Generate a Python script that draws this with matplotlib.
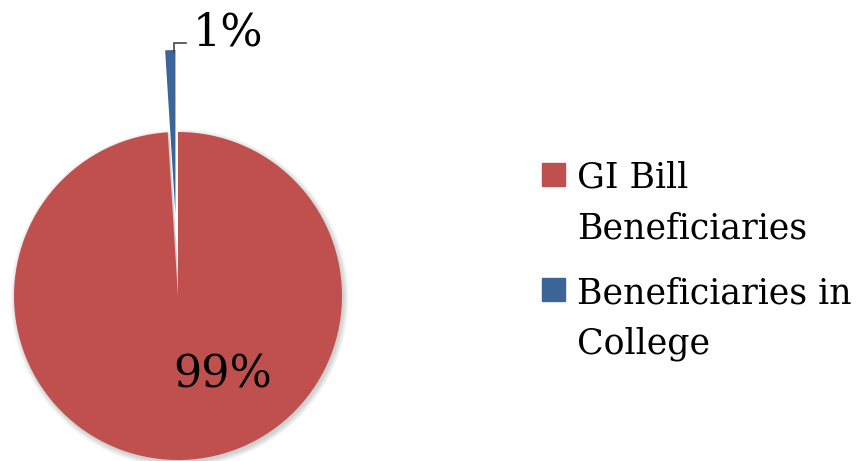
import matplotlib
matplotlib.use("Agg")
import matplotlib.pyplot as plt
from matplotlib.patches import Rectangle, Wedge

categories = ["GI Bill\nBeneficiaries", "Beneficiaries in\nCollege"]
shares = [99, 1]
colors = ["#C0504D", "#3B6497"]
explode = [0.0, 0.5]

W, H = 863, 461
fig = plt.figure(figsize=(W / 100, H / 100), dpi=100)
plt.rcParams["font.family"] = ["DejaVu Serif"]

# Pie axes spanning the whole figure; one data unit = pie radius in pixels
cx, cy, R = 178, 296, 164
ax = fig.add_axes([0, 0, 1, 1])
ax.axis("off")

wedges, _ = ax.pie(shares, colors=colors, explode=explode, startangle=90,
                   counterclock=False, radius=1.0,
                   wedgeprops=dict(linewidth=0))
for w in wedges:
    w.set_zorder(2)

# soft drop shadow under the large slice
big = wedges[0]
for k in range(6):
    ax.add_patch(Wedge((big.center[0] + 0.010, big.center[1] - 0.014),
                       big.r + 0.006 * k, big.theta1, big.theta2,
                       color="#000000", alpha=0.03, lw=0, zorder=1))

ax.set_xlim(-cx / R, (W - cx) / R)
ax.set_ylim(-(H - cy) / R, cy / R)
ax.set_aspect("auto")

# value labels
ax.text(0.27, -0.56, f"{shares[0]}%", fontsize=32, ha="center", va="baseline",
        zorder=3)
ax.plot([-0.024, -0.024, 0.05], [1.49, 1.545, 1.545], color="#444444",
        lw=1.2, zorder=3, solid_joinstyle="miter")
ax.text(0.09, 1.53, f"{shares[1]}%", fontsize=32, ha="left", va="baseline",
        zorder=3)

# legend: colour square plus two-line label per category
leg_rows = [(163, 188), (278, 303)]
for (top, base), label, col in zip(leg_rows, categories, colors):
    fig.patches.append(Rectangle((542 / W, 1 - (top + 23) / H), 23 / W, 23 / H,
                                 transform=fig.transFigure, color=col))
    first, second = label.split("\n")
    fig.text(577 / W, 1 - base / H, first, fontsize=25, va="baseline")
    fig.text(577 / W, 1 - (base + 50) / H, second, fontsize=25, va="baseline")

fig.savefig("out.png", dpi=100)
